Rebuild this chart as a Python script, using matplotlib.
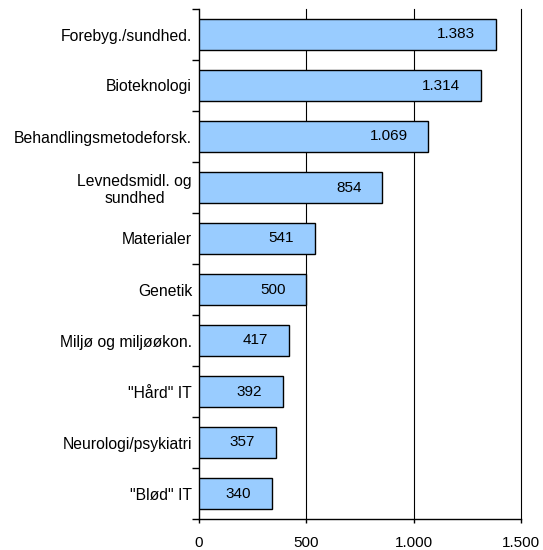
import matplotlib
matplotlib.use("Agg")
import matplotlib.pyplot as plt
from matplotlib.ticker import FixedLocator, FuncFormatter

plt.rcParams['font.family'] = ['Liberation Sans', 'DejaVu Sans']

categories = ["Forebyg./sundhed.", "Bioteknologi", "Behandlingsmetodeforsk.",
              "Levnedsmidl. og\nsundhed", "Materialer", "Genetik",
              "Miljø og miljøøkon.", "\"Hård\" IT", "Neurologi/psykiatri", "\"Blød\" IT"]
values = [1383, 1314, 1069, 854, 541, 500, 417, 392, 357, 340]
xticks = [0, 500, 1000, 1500]

def dk(v):
    return f"{int(v):,}".replace(",", ".")

fig = plt.figure(figsize=(5.43, 5.50), dpi=100)
ax = fig.add_axes([199/543, 1-519/550, (521-199)/543, (519-9)/550])

n = len(categories)
ypos = list(range(n))[::-1]
ax.barh(ypos, values, height=0.6, color="#99CCFF", edgecolor="black", linewidth=1, zorder=3)

ax.set_xlim(0, 1500)
ax.set_ylim(-0.5, n - 0.5)
ax.set_xticks(xticks)
ax.xaxis.set_major_formatter(FuncFormatter(lambda v, p: dk(v)))
ax.set_yticks(ypos)
ax.set_yticklabels(categories, multialignment="center")
ax.yaxis.set_minor_locator(FixedLocator([i + 0.5 for i in range(-1, n)]))

ax.tick_params(axis="y", which="major", length=0, pad=5, labelsize=11.3)
ax.tick_params(axis="y", which="minor", length=5, width=1, color="black")
ax.tick_params(axis="x", which="major", length=3, width=1, pad=9, labelsize=11)

for s in ["top", "right"]:
    ax.spines[s].set_visible(False)
for s in ["left", "bottom"]:
    ax.spines[s].set_color("black")
    ax.spines[s].set_linewidth(1)

for g in xticks[1:]:
    ax.axvline(g, color="black", linewidth=0.8, zorder=1, clip_on=False)

for y, v in zip(ypos, values):
    ax.annotate(dk(v), xy=(v, y), xytext=(-15, 0), textcoords="offset points",
                ha="right", va="center", fontsize=11, zorder=4)

fig.savefig("out.png", dpi=100)
